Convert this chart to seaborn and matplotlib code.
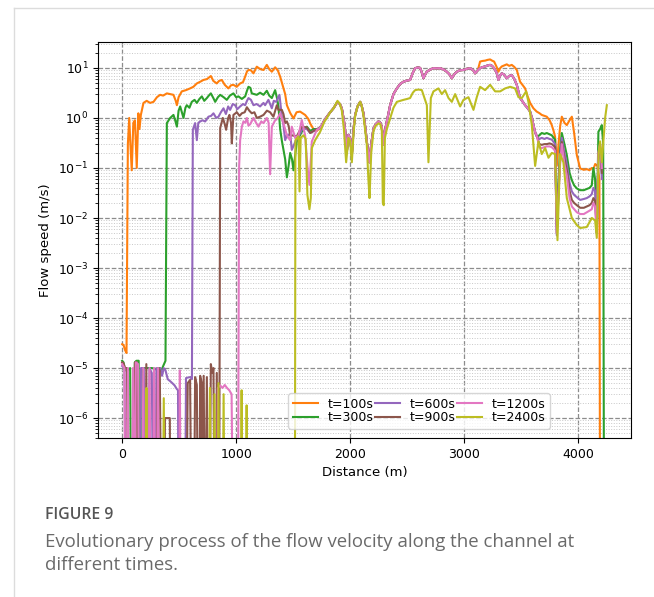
import numpy as np
import pandas as pd
import matplotlib
matplotlib.use("Agg")
import matplotlib.pyplot as plt
import seaborn as sns
from matplotlib.lines import Line2D
from matplotlib.ticker import LogLocator, NullFormatter

# ---- data (distance in m, speed in m/s) ----
LABELS = ["t=100s", "t=300s", "t=600s", "t=900s", "t=1200s", "t=2400s"]
COLORS = ["#ff7f0e", "#2ca02c", "#9467bd", "#8c564b", "#e377c2", "#bcbd22"]
OFF = 1e-9  # dry cells, below the plotted range

# stretch where all wet profiles overlap (1750-3120 m)
MID_X = [1752, 1775, 1796, 1825, 1854, 1889, 1910, 1927, 1945, 1956, 1971, 1985, 2000, 2015, 2030,
         2044, 2065, 2088, 2100, 2117, 2135, 2146, 2160, 2170, 2185, 2205, 2225, 2249, 2265, 2278,
         2292, 2305, 2322, 2335, 2351, 2380, 2410, 2440, 2468, 2500, 2526, 2550, 2570, 2595, 2614,
         2630, 2643, 2660, 2673, 2700, 2731, 2760, 2790, 2820, 2848, 2870, 2892, 2910, 2936, 2965,
         2994, 3024, 3053, 3080, 3096, 3120]
MID_V = [0.72, 0.9, 1.06, 1.3, 1.56, 2.1, 1.9, 1.56, 0.9, 0.58, 0.21, 0.46, 0.39, 0.18, 0.6,
         1.15, 1.7, 2.1, 1.8, 1.24, 0.6, 0.34, 0.2, 0.13, 0.3, 0.62, 0.75, 0.85, 0.8, 0.67,
         0.29, 0.55, 0.85, 1.2, 1.8, 3.0, 3.9, 4.8, 5.3, 5.6, 5.75, 8.0, 9.9, 10.2, 10.0,
         8.0, 6.2, 7.5, 8.4, 9.2, 9.9, 9.8, 9.9, 9.3, 8.4, 7.5, 6.2, 7.3, 8.4, 9.0,
         9.1, 9.6, 9.9, 9.0, 7.8, 9.0]

# shared by t=300s ... t=1200s (3140-3640 m)
SHOULDER_X = [3140, 3162, 3184, 3206, 3228, 3245, 3263, 3285, 3301, 3315, 3330, 3350, 3374, 3395,
              3418, 3440, 3462, 3491, 3515, 3535, 3555, 3579, 3595, 3608, 3625, 3640]
SHOULDER_V = [9.9, 10.4, 10.7, 11.2, 11.5, 11.0, 9.9, 8.0, 5.75, 7.0, 7.8, 7.4, 6.2, 6.9,
              7.2, 6.0, 4.6, 2.5, 2.1, 1.8, 1.6, 1.34, 1.0, 0.72, 0.5, 0.42]

TAIL_X = [3660, 3681, 3705, 3725, 3750, 3769, 3785, 3798, 3813, 3828, 3843, 3857, 3880, 3901, 3925,
          3945, 3965, 3989, 4018, 4050, 4076, 4100, 4120, 4134, 4149, 4164, 4178, 4193, 4208]

ORANGE_HEAD_X = [0, 12, 25, 38, 50, 62, 72, 84, 98, 112, 128, 142, 152, 164, 187, 215, 245, 275,
                 305, 333, 360, 392, 420, 450, 470, 480, 495, 523, 560, 596, 625, 655, 685, 713,
                 745, 778, 800, 830, 850, 874, 900, 932, 955, 976, 1005, 1035, 1060, 1079, 1095,
                 1108, 1129, 1152, 1181, 1210, 1240, 1269, 1290, 1313, 1342, 1365, 1386, 1430,
                 1445, 1474, 1503, 1530, 1561, 1605, 1634, 1649, 1678, 1708, 1730]
ORANGE_HEAD_V = [3e-5, 2.9e-5, 2.3e-5, 2e-5, 0.3, 1.0, 0.3, 0.09, 0.8, 0.9, 0.1, 1.24, 0.6, 1.15,
                 2.0, 2.2, 2.0, 2.1, 2.6, 2.9, 2.8, 3.1, 3.0, 2.9, 2.2, 1.8, 2.6, 3.4, 3.6, 3.9,
                 4.2, 4.9, 5.3, 5.75, 6.0, 6.9, 5.5, 4.9, 5.5, 5.75, 4.6, 3.9, 4.5, 4.6, 4.2,
                 4.9, 5.2, 6.7, 8.5, 9.1, 9.0, 7.8, 10.6, 9.5, 9.1, 11.5, 9.5, 8.4, 10.3, 9.0,
                 6.7, 3.0, 1.8, 1.26, 0.98, 1.3, 1.34, 1.15, 0.95, 0.78, 0.6, 0.55, 0.62]
ORANGE_TAIL_X = [3140, 3162, 3184, 3206, 3228, 3245, 3263, 3285, 3301, 3315, 3330, 3350, 3374,
                 3395, 3418, 3440, 3462, 3491, 3515, 3535, 3555, 3579, 3608, 3637, 3660, 3681,
                 3705, 3725, 3750, 3769, 3785, 3798, 3813, 3828, 3843, 3857, 3880, 3901, 3925,
                 3945, 3965, 3989, 4018, 4050, 4076, 4100, 4120, 4134, 4150, 4170, 4187, 4193]
ORANGE_TAIL_V = [13.4, 13.8, 14.0, 14.5, 14.8, 14.0, 13.4, 10.5, 8.4, 9.8, 10.7, 11.2, 11.8,
                 11.0, 11.5, 10.5, 9.1, 5.3, 4.5, 3.9, 2.8, 2.0, 1.56, 1.34, 1.25, 1.15,
                 1.1, 1.06, 0.9, 0.72, 0.55, 0.42, 0.11, 0.3, 0.7, 1.06, 0.8, 0.72, 0.9,
                 1.06, 0.5, 0.18, 0.098, 0.092, 0.095, 0.09, 0.1, 0.095, 0.12, 0.11, 0.06, OFF]

GREEN_HEAD_X = [0, 12, 25, 45, 70, 80, 100, 111, 125, 145, 152, 170, 180, 199, 230, 260, 300, 330,
                345, 360, 380, 392, 421, 450, 465, 480, 495, 509, 538, 555, 567, 590, 611, 635,
                655, 678, 699, 720, 743, 760, 778, 800, 816, 840, 860, 890, 918, 945, 976, 1000,
                1020, 1050, 1079, 1095, 1108, 1125, 1137, 1160, 1181, 1210, 1240, 1269, 1290,
                1313, 1342, 1360, 1371, 1386, 1401, 1430, 1445, 1460, 1474, 1490, 1503, 1520,
                1532, 1576, 1620, 1650, 1680, 1710, 1730]
GREEN_HEAD_V = [1.4e-5, 1.3e-5, 9e-6, 9e-6, 1e-5, OFF, OFF, 1.3e-5, 1.4e-5, 1.4e-5, OFF, OFF,
                1e-5, 1e-5, 1e-5, 1e-5, 9.5e-6, 1e-5, 9e-6, 1.1e-5, 1.4e-5, 0.79, 1.0, 1.15,
                0.9, 0.67, 1.4, 1.7, 1.0, 1.6, 1.8, 1.6, 2.1, 2.3, 2.0, 2.4, 2.7, 2.2, 2.5,
                2.8, 3.1, 2.5, 2.1, 2.6, 2.9, 2.6, 2.3, 2.8, 3.1, 2.6, 2.7, 2.4, 2.7, 3.5,
                4.2, 4.0, 3.1, 3.0, 2.9, 3.2, 2.9, 3.5, 2.8, 2.5, 3.6, 2.4, 1.7, 0.6, 0.35,
                0.15, 0.065, 0.11, 0.2, 0.15, 0.09, 0.2, 0.34, 0.53, 0.67, 0.55, 0.6, 0.6, 0.62]
GREEN_TAIL_V = [0.45, 0.5, 0.48, 0.5, 0.47, 0.45, 0.4, 0.37, 0.0072, 0.06, 0.25, 0.5, 0.3, 0.18,
                0.08, 0.057, 0.045, 0.039, 0.036, 0.036, 0.038, 0.04, 0.045, 0.1, 0.06, 0.005,
                0.53, 0.6, 0.72]
GREEN_END_X = [4220, 4228]
GREEN_END_V = [0.3, OFF]

PURPLE_HEAD_X = [0, 20, 35, 150, 165, 190, 205, 225, 240, 260, 275, 290, 300, 320, 335, 350, 365,
                 380, 400, 420, 440, 460, 480, 490, 495, 550, 560, 580, 600, 612, 620, 640, 655,
                 668, 684, 705, 728, 757, 780, 801, 825, 845, 866, 889, 910, 930, 947, 970, 991,
                 1010, 1035, 1060, 1079, 1095, 1108, 1130, 1152, 1180, 1210, 1240, 1254, 1283,
                 1313, 1330, 1351, 1380, 1401, 1415, 1430, 1445, 1459, 1474, 1488, 1510, 1532,
                 1547, 1590, 1620, 1650, 1680, 1710, 1730]
PURPLE_HEAD_V = [1.1e-5, 1e-5, OFF, OFF, 1e-5, 1e-5, OFF, OFF, 1e-5, 8e-6, OFF, OFF, 1e-5, 9e-6,
                 1e-5, 7e-6, 1e-5, 9e-6, 6e-6, 5.5e-6, 5e-6, 4.5e-6, 3.8e-6, 3.6e-6, OFF, OFF,
                 6.3e-6, 6.5e-6, 6.6e-6, 6e-6, 0.58, 0.79, 0.36, 0.8, 0.85, 0.9, 0.85, 1.06,
                 1.1, 1.24, 1.0, 1.06, 1.3, 1.56, 1.2, 1.7, 1.45, 1.9, 1.8, 1.5, 1.7, 1.9, 1.8,
                 2.2, 2.5, 2.3, 1.8, 1.9, 1.7, 2.0, 1.8, 2.3, 1.56, 2.2, 2.1, 2.9, 1.06, 0.72,
                 0.36, 0.45, 0.45, 0.5, 0.23, 0.3, 0.39, 0.43, 0.67, 0.6, 0.5, 0.55, 0.6, 0.62]
PURPLE_TAIL_V = [0.38, 0.4, 0.38, 0.4, 0.38, 0.37, 0.33, 0.3, 0.0045, 0.04, 0.18, 0.4, 0.2, 0.12,
                 0.05, 0.034, 0.029, 0.026, 0.023, 0.024, 0.025, 0.027, 0.03, 0.04, 0.035, 0.005,
                 0.2, 0.3, 0.06]

BROWN_HEAD_X = [0, 12, 25, 42, 55, 100, 112, 128, 140, 200, 212, 222, 290, 315, 330, 345, 370,
                375, 418, 425, 560, 575, 596, 610, 628, 640, 655, 668, 678, 684, 698, 705, 715,
                728, 743, 755, 765, 778, 790, 801, 812, 822, 830, 842, 850, 860, 883, 900, 912,
                930, 941, 955, 962, 976, 1006, 1030, 1050, 1075, 1094, 1115, 1137, 1160, 1181,
                1210, 1240, 1270, 1298, 1327, 1357, 1371, 1401, 1415, 1430, 1445, 1460, 1474,
                1488, 1532, 1576, 1620, 1650, 1680, 1710, 1730]
BROWN_HEAD_V = [1.3e-5, 1.25e-5, 1e-5, 1e-5, OFF, OFF, 1.3e-5, 1.3e-5, OFF, OFF, 1.2e-5, OFF,
                OFF, 1e-5, 9e-6, OFF, OFF, 1e-6, 1e-6, OFF, OFF, 5e-6, 5.8e-6, OFF, OFF,
                6.6e-6, 4.6e-6, OFF, OFF, 7e-6, 5e-6, OFF, 7e-6, OFF, 6.6e-6, OFF, OFF,
                1.2e-5, 8e-6, 1e-5, OFF, OFF, 8e-6, OFF, OFF, 0.63, 1.0, 0.75, 0.58, 1.0,
                1.15, 0.8, 0.31, 1.15, 1.3, 1.1, 1.24, 1.3, 1.64, 1.4, 1.24, 1.3, 1.0, 1.06,
                1.15, 1.4, 1.3, 1.06, 1.8, 1.45, 1.45, 1.2, 0.79, 0.85, 0.7, 0.45, 0.45, 0.43,
                0.67, 0.65, 0.5, 0.55, 0.6, 0.62]
BROWN_TAIL_V = [0.3, 0.29, 0.3, 0.3, 0.31, 0.3, 0.28, 0.26, 0.005, 0.035, 0.15, 0.33, 0.15, 0.09,
                0.035, 0.023, 0.02, 0.018, 0.016, 0.016, 0.017, 0.018, 0.02, 0.025, 0.022, 0.005,
                0.18, 0.25, 0.08]

PINK_HEAD_X = [0, 10, 20, 28, 40, 50, 60, 85, 95, 105, 120, 140, 150, 175, 185, 195, 230, 240,
               255, 270, 280, 292, 300, 315, 325, 500, 506, 515, 830, 840, 860, 880, 900, 920,
               940, 960, 975, 1015, 1026, 1035, 1050, 1064, 1080, 1094, 1108, 1123, 1152, 1175,
               1196, 1220, 1240, 1269, 1285, 1298, 1313, 1342, 1365, 1386, 1400, 1415, 1445,
               1459, 1474, 1488, 1518, 1547, 1576, 1605, 1625, 1643, 1664, 1708, 1730]
PINK_HEAD_V = [1.2e-5, 1.1e-5, 1e-5, OFF, OFF, 1e-5, OFF, OFF, 1e-5, OFF, 1.3e-5, 1.2e-5, OFF,
               OFF, 1e-5, OFF, OFF, 1e-5, OFF, OFF, 1e-5, OFF, OFF, 1e-5, OFF, OFF, 9e-6, OFF,
               OFF, 4e-6, 4.5e-6, 4e-6, 4.6e-6, 4e-6, 3.6e-6, 3e-6, OFF, OFF, 0.106, 0.36,
               0.67, 0.85, 0.8, 1.0, 0.7, 0.75, 1.0, 0.8, 0.67, 0.85, 0.79, 1.0, 0.8, 0.075,
               0.67, 0.9, 1.0, 1.24, 1.0, 0.79, 0.45, 0.4, 0.36, 0.67, 0.4, 0.45, 0.91, 0.45,
               0.11, 0.046, 0.34, 0.58, 0.62]
PINK_TAIL_V = [0.26, 0.25, 0.26, 0.27, 0.27, 0.26, 0.24, 0.22, 0.005, 0.03, 0.13, 0.3, 0.12, 0.07,
               0.025, 0.017, 0.015, 0.013, 0.012, 0.012, 0.013, 0.014, 0.015, 0.02, 0.017, 0.005,
               0.2, 0.3, 0.1]

OLIVE_X = [0, 205, 213, 222, 355, 365, 375, 760, 770, 780, 800, 810, 820, 835, 845, 855, 880, 890,
           900, 1040, 1048, 1056, 1085, 1092, 1100, 1515, 1520, 1547, 1556, 1566, 1590, 1610, 1625,
           1643, 1655, 1664, 1693, 1737, 1775, 1796, 1825, 1854, 1889, 1910, 1927, 1945, 1965,
           1985, 2000, 2015, 2030, 2044, 2065, 2088, 2100, 2117, 2135, 2146, 2160, 2170, 2185,
           2205, 2225, 2249, 2265, 2278, 2287, 2295, 2305, 2322, 2351, 2380, 2410, 2440, 2468,
           2500, 2526, 2550, 2570, 2600, 2629, 2643, 2673, 2687, 2708, 2731, 2775, 2804, 2833,
           2863, 2892, 2921, 2965, 2994, 3038, 3082, 3111, 3140, 3184, 3228, 3272, 3316, 3360,
           3404, 3447, 3477, 3506, 3544, 3564, 3594, 3623, 3652, 3681, 3711, 3740, 3769, 3798,
           3819, 3842, 3871, 3901, 3945, 3989, 4018, 4076, 4120, 4149, 4164, 4180, 4193, 4208,
           4237, 4252]
OLIVE_V = [OFF, OFF, 4e-6, OFF, OFF, 2.5e-6, OFF, OFF, 4e-6, OFF, OFF, 3e-6, OFF, OFF, 5e-6, OFF,
           OFF, 3e-6, OFF, OFF, 3.6e-6, OFF, OFF, 1.8e-6, OFF, OFF, 0.36, 0.43, 0.034, 0.4, 0.45,
           0.38, 0.029, 0.015, 0.025, 0.25, 0.36, 0.53, 0.85, 1.0, 1.3, 1.56, 2.2, 1.9, 1.4, 0.6,
           0.13, 0.4, 0.35, 0.13, 0.5, 1.1, 1.7, 2.1, 1.8, 1.1, 0.5, 0.3, 0.06, 0.025, 0.2, 0.55,
           0.7, 0.78, 0.75, 0.55, 0.02, 0.018, 0.4, 0.6, 0.98, 1.6, 2.1, 2.2, 2.3, 2.4, 2.5, 3.2,
           3.6, 3.7, 3.6, 2.9, 1.8, 0.13, 2.5, 3.4, 3.9, 3.0, 3.6, 2.5, 2.1, 3.0, 1.7, 2.3, 2.6,
           1.45, 2.6, 4.2, 3.6, 4.6, 3.4, 3.4, 3.9, 4.2, 3.9, 2.6, 2.5, 3.4, 2.1, 0.72, 0.11,
           0.34, 0.19, 0.25, 0.16, 0.2, 0.19, 0.0036, 0.19, 0.13, 0.025, 0.01, 0.0072, 0.0063,
           0.0066, 0.01, 0.009, 0.004, 0.2, 0.34, 0.13, 1.0, 1.8]

CAPTION_TITLE = "FIGURE 9"
CAPTION_LINES = ["Evolutionary process of the flow velocity along the channel at",
                 "different times."]

# assemble the six profiles
profiles = {
    "t=100s": (ORANGE_HEAD_X + MID_X + ORANGE_TAIL_X, ORANGE_HEAD_V + MID_V + ORANGE_TAIL_V),
    "t=300s": (GREEN_HEAD_X + MID_X + SHOULDER_X + TAIL_X + GREEN_END_X,
               GREEN_HEAD_V + MID_V + SHOULDER_V + GREEN_TAIL_V + GREEN_END_V),
    "t=600s": (PURPLE_HEAD_X + MID_X + SHOULDER_X + TAIL_X,
               PURPLE_HEAD_V + MID_V + SHOULDER_V + PURPLE_TAIL_V),
    "t=900s": (BROWN_HEAD_X + MID_X + SHOULDER_X + TAIL_X,
               BROWN_HEAD_V + MID_V + SHOULDER_V + BROWN_TAIL_V),
    "t=1200s": (PINK_HEAD_X + MID_X + SHOULDER_X + TAIL_X,
                PINK_HEAD_V + MID_V + SHOULDER_V + PINK_TAIL_V),
    "t=2400s": (OLIVE_X, OLIVE_V),
}

frames = []
for lab in LABELS:
    xs, vs = profiles[lab]
    frames.append(pd.DataFrame({"distance": xs, "speed": vs, "time": lab}))
df = pd.concat(frames, ignore_index=True)

# ---- figure ----
fig = plt.figure(figsize=(6.54, 5.97), dpi=100)
ax = fig.add_axes([98 / 654, 1 - 438 / 597, 533 / 654, 396 / 597])

sns.lineplot(data=df, x="distance", y="speed", hue="time", hue_order=LABELS,
             palette=COLORS, sort=False, estimator=None, linewidth=1.5, ax=ax)

ax.set_yscale("log")
ax.set_ylim(4e-7, 33)
ax.set_xlim(-212, 4464)
ax.set_xticks([0, 1000, 2000, 3000, 4000])
ax.yaxis.set_major_locator(LogLocator(base=10, numticks=20))
ax.yaxis.set_minor_locator(LogLocator(base=10, subs=np.arange(2, 10), numticks=20))
ax.yaxis.set_minor_formatter(NullFormatter())
ax.tick_params(labelsize=9)

ax.grid(which="major", linestyle="--", color="#8c8c8c", linewidth=0.9)
ax.grid(which="minor", axis="y", linestyle=":", color="#c8c8c8", linewidth=0.7)
ax.set_axisbelow(True)

ax.set_xlabel("Distance (m)", fontsize=9.5)
ax.set_ylabel("Flow speed (m/s)", fontsize=9.5)

sns.move_legend(ax, "lower left", bbox_to_anchor=(0.345, 0.008), ncol=3, title=None,
                fontsize=9, columnspacing=0.1, handletextpad=0.8, labelspacing=0.05,
                borderpad=0.35, frameon=True)

# card frame and caption
fig.add_artist(Line2D([14 / 654, 1], [1 - 8 / 597, 1 - 8 / 597], transform=fig.transFigure,
                      color="#dcdcdc", linewidth=1))
fig.add_artist(Line2D([14 / 654, 14 / 654], [0, 1 - 8 / 597], transform=fig.transFigure,
                      color="#dcdcdc", linewidth=1))
fig.text(45 / 654, 1 - 515 / 597, CAPTION_TITLE, family="Open Sans", fontsize=11.3,
         fontweight="semibold", color="#555555", va="center")
for i, line in enumerate(CAPTION_LINES):
    fig.text(45 / 654, 1 - (542 + 23 * i) / 597, line, family="Open Sans", fontsize=13.4,
             color="#6a6a6a", va="center")

fig.savefig("out.png", dpi=100)
